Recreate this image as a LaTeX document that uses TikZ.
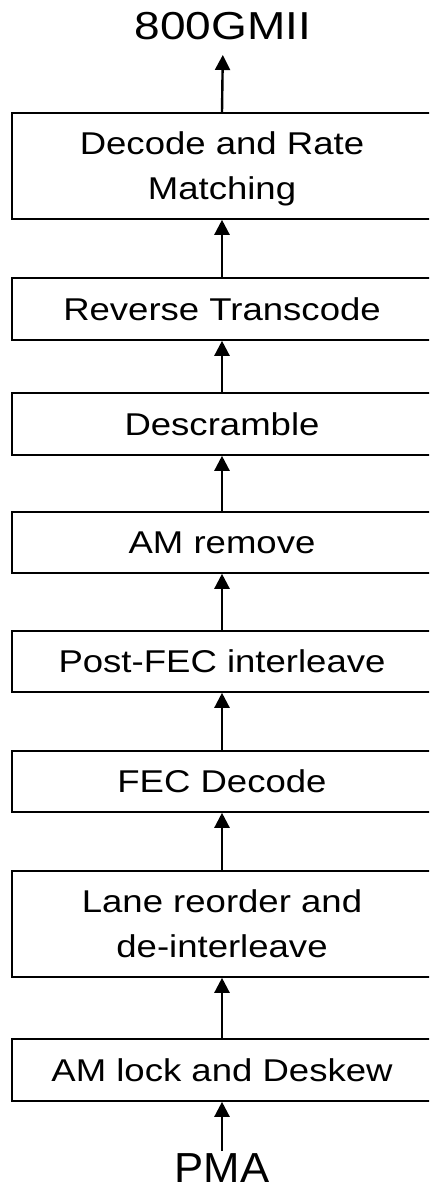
\documentclass[tikz,border=0pt]{standalone}
\usepackage{fontspec}
\setmainfont{Liberation Sans}
\usetikzlibrary{arrows.meta}
\newcommand{\wide}[1]{\scalebox{1.16}[1]{#1}}
\tikzset{
  blk/.style={draw, line width=1.6pt, minimum width=420pt, inner sep=0pt,
    font=\fontsize{31.5}{45}\selectfont, text height=22.5pt, text depth=0pt, align=center},
  two/.style={text height=67.5pt, text depth=0pt},
  arr/.style={line width=2.4pt, -{Triangle[width=15pt,length=15pt]}},
}
\begin{document}
\begin{tikzpicture}[x=1pt,y=-1pt]
\useasboundingbox (0,0) rectangle (429,1193);
\clip (0,0) rectangle (429,1193);
\node[blk, two, minimum height=106pt] (b1) at (222,166) {\wide{Decode and Rate}\\\wide{Matching}};
\node[blk, minimum height=62pt] (b2) at (222,309) {\wide{Reverse Transcode}};
\node[blk, minimum height=62pt] (b3) at (222,424) {\wide{Descramble}};
\node[blk, minimum height=61pt] (b4) at (222,542.5) {\wide{AM remove}};
\node[blk, minimum height=61pt] (b5) at (222,661.5) {\wide{Post-FEC interleave}};
\node[blk, minimum height=61pt] (b6) at (222,781.5) {\wide{FEC Decode}};
\node[blk, two, minimum height=106pt] (b7) at (222,924) {\wide{Lane reorder and}\\\wide{de-interleave}};
\node[blk, minimum height=62pt] (b8) at (222,1070) {\wide{AM lock and Deskew}};
\node[inner sep=0pt, text depth=0pt, font=\fontsize{39}{39}\selectfont, anchor=south] (gm) at (223,40) {\scalebox{1.18}[1]{800GMII}};
\node[inner sep=0pt, text height=30pt, text depth=0pt, font=\fontsize{42}{42}\selectfont, anchor=north] (pma) at (222,1152) {\scalebox{1.04}[1]{PMA}};
\draw[arr, shorten >=15pt] (b1.north) -- (gm.south);
\draw[arr] (b2.north) -- (b1.south);
\draw[arr] (b3.north) -- (b2.south);
\draw[arr] (b4.north) -- (b3.south);
\draw[arr] (b5.north) -- (b4.south);
\draw[arr] (b6.north) -- (b5.south);
\draw[arr] (b7.north) -- (b6.south);
\draw[arr] (b8.north) -- (b7.south);
\draw[arr] ([yshift=1pt]pma.north) -- (b8.south);
\end{tikzpicture}
\end{document}
